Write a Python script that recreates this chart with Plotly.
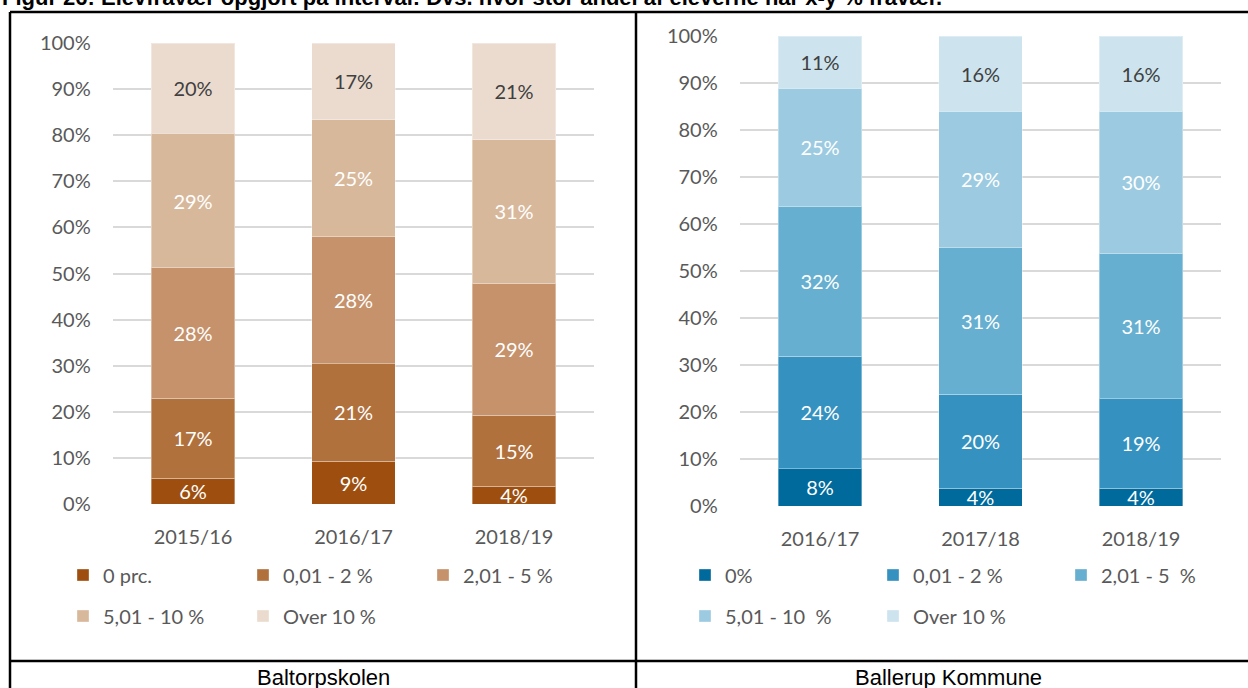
import plotly.graph_objects as go

# ---- data ----
left_years = ["2015/16", "2016/17", "2018/19"]
left_series = ["0 prc.", "0,01 - 2 %", "2,01 - 5 %", "5,01 - 10 %", "Over 10 %"]
left_0 = [5.6, 9.3, 3.9]
left_1 = [17.3, 21.1, 15.4]
left_2 = [28.3, 27.7, 28.6]
left_3 = [29.2, 25.3, 31.1]
left_4 = [19.6, 16.6, 21.0]

right_years = ["2016/17", "2017/18", "2018/19"]
right_series = ["0%", "0,01 - 2 %", "2,01 - 5  %", "5,01 - 10  %", "Over 10 %"]
right_0 = [7.9, 3.8, 3.8]
right_1 = [24.0, 20.0, 19.0]
right_2 = [31.9, 31.2, 31.0]
right_3 = [25.1, 29.0, 30.2]
right_4 = [11.1, 16.0, 16.0]

y_ticks = [0, 10, 20, 30, 40, 50, 60, 70, 80, 90, 100]
y_tick_labels = [f"{v}%" for v in y_ticks]

left_colors = ["#9E4F0F", "#B0713D", "#C6926B", "#D8B89B", "#EBDBCE"]
right_colors = ["#006A9C", "#3592C0", "#66AFD0", "#9CCBE1", "#CDE4EF"]
label_colors = ["white", "white", "white", "white", "#404040"]

W, H = 1248, 688
FONT = "Lato, Calibri, Carlito, sans-serif"
GRAY = "#595959"

def px(x):
    return x / W

def py(y):
    return 1 - y / H

fig = go.Figure()

left_vals = [left_0, left_1, left_2, left_3, left_4]
right_vals = [right_0, right_1, right_2, right_3, right_4]

def legend_for(side, i):
    if side == "L":
        return "legend" if i < 3 else "legend2"
    return "legend3" if i < 3 else "legend4"

for i, (name, vals) in enumerate(zip(left_series, left_vals)):
    fig.add_trace(go.Bar(
        x=left_years, y=vals, name=name, xaxis="x", yaxis="y",
        marker=dict(color=left_colors[i], line=dict(color="rgba(255,255,255,0.35)", width=1)),
        text=[f"{round(v)}%" for v in vals], textposition="inside",
        insidetextanchor="middle", textangle=0, constraintext="none",
        textfont=dict(family=FONT, size=20, color=label_colors[i]),
        legend=legend_for("L", i), hoverinfo="skip",
    ))

for i, (name, vals) in enumerate(zip(right_series, right_vals)):
    fig.add_trace(go.Bar(
        x=right_years, y=vals, name=name, xaxis="x2", yaxis="y2",
        marker=dict(color=right_colors[i], line=dict(color="rgba(255,255,255,0.35)", width=1)),
        text=[f"{round(v)}%" for v in vals], textposition="inside",
        insidetextanchor="middle", textangle=0, constraintext="none",
        textfont=dict(family=FONT, size=20, color=label_colors[i]),
        legend=legend_for("R", i), hoverinfo="skip",
    ))

yaxis_common = dict(range=[0, 100], tickmode="array", tickvals=y_ticks, ticktext=y_tick_labels,
                    showgrid=True, gridcolor="#D9D9D9", gridwidth=1.5,
                    zeroline=False, showline=False, ticks="",
                    tickfont=dict(family=FONT, size=20, color=GRAY),
                    ticklabelstandoff=21, fixedrange=True)
xaxis_common = dict(showgrid=False, zeroline=False, showline=False, ticks="",
                    tickfont=dict(family=FONT, size=20, color=GRAY),
                    ticklabelstandoff=19, fixedrange=True)

legend_common = dict(orientation="h", font=dict(family=FONT, size=20, color=GRAY),
                     bgcolor="rgba(0,0,0,0)", entrywidthmode="pixels", traceorder="normal",
                     xanchor="left", yanchor="middle", itemclick=False, itemdoubleclick=False)

fig.update_layout(
    width=W, height=H,
    margin=dict(l=0, r=0, t=0, b=0, autoexpand=False),
    paper_bgcolor="white", plot_bgcolor="white",
    barmode="stack", bargap=0.477,
    xaxis=dict(domain=[px(112.75), px(594.25)], anchor="y", **xaxis_common),
    yaxis=dict(domain=[py(504), py(43)], anchor="x", **yaxis_common),
    xaxis2=dict(domain=[px(739.75), px(1221.25)], anchor="y2", **xaxis_common),
    yaxis2=dict(domain=[py(506), py(36)], anchor="x2", **yaxis_common),
    legend=dict(x=px(63), y=py(575), entrywidth=135, **legend_common),
    legend2=dict(x=px(63), y=py(616), entrywidth=135, **legend_common),
    legend3=dict(x=px(685), y=py(575), entrywidth=143, **legend_common),
    legend4=dict(x=px(685), y=py(616), entrywidth=143, **legend_common),
    showlegend=True,
)

# table borders
line = dict(color="black", width=2.5)
for (x0, y0, x1, y1) in [(10, 12, 10, 700), (636, 12, 636, 700), (10, 12, 1260, 12), (10, 661, 1260, 661)]:
    fig.add_shape(type="line", xref="paper", yref="paper",
                  x0=px(x0), y0=py(y0), x1=px(x1), y1=py(y1), line=line)

# cut-off caption at the very top
fig.add_annotation(text="<b>Figur 26: Elevfravær opgjort på interval: Dvs. hvor stor andel af eleverne har x-y % fravær.</b>",
                   xref="paper", yref="paper", x=0, y=py(-2), xanchor="left", yanchor="middle",
                   showarrow=False, font=dict(family="Liberation Sans, Arial", size=22, color="black"))

# cell captions
fig.add_annotation(text="Baltorpskolen", xref="paper", yref="paper", x=px(323), y=py(677),
                   xanchor="center", yanchor="middle", showarrow=False,
                   font=dict(family="Liberation Sans, Arial", size=22, color="black"))
fig.add_annotation(text="Ballerup Kommune", xref="paper", yref="paper", x=px(948), y=py(677),
                   xanchor="center", yanchor="middle", showarrow=False,
                   font=dict(family="Liberation Sans, Arial", size=22, color="black"))

fig.write_html("out.html", config={"displayModeBar": False},
               post_script="document.body.style.margin='0';document.body.style.overflow='hidden';")
